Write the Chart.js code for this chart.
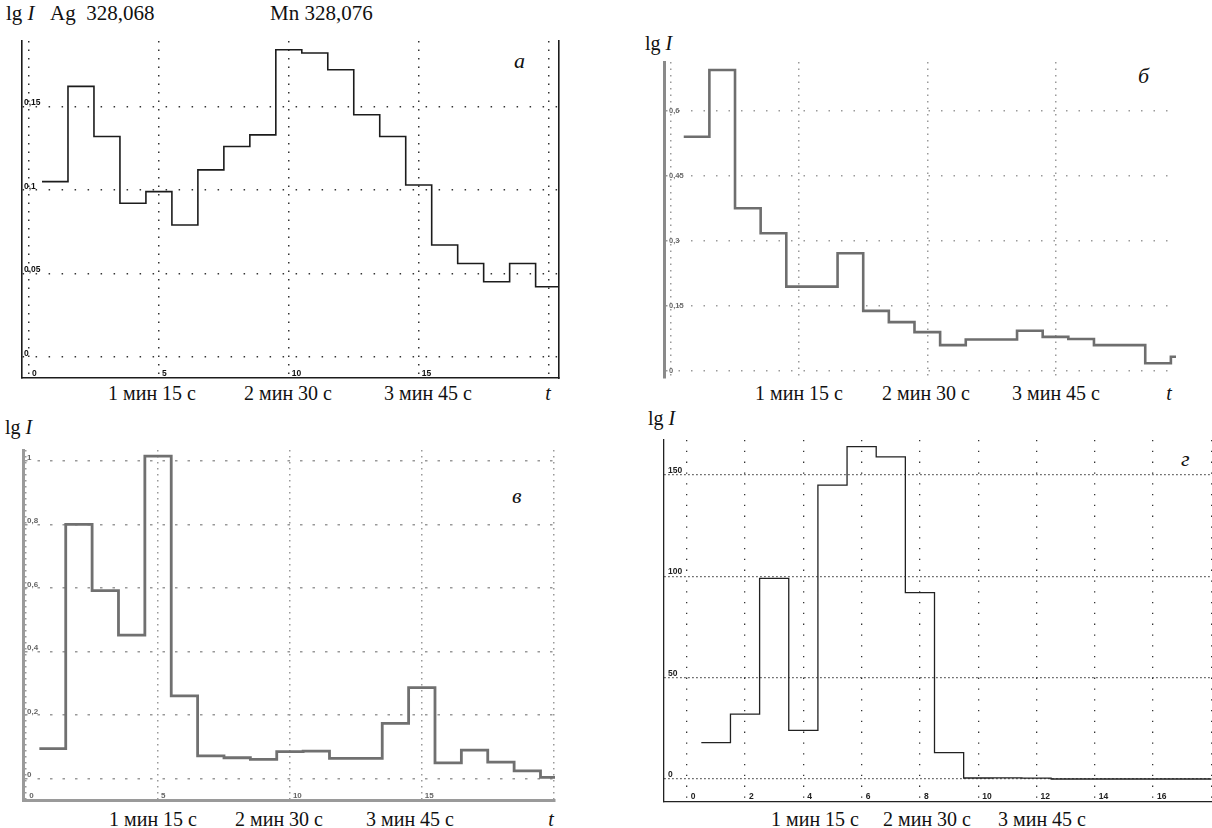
<!DOCTYPE html>
<html>
<head>
<meta charset="utf-8">
<script src="https://cdn.jsdelivr.net/npm/chart.js@4/dist/chart.umd.min.js"></script>
<style>
  body { margin: 0; background: #fff; width: 1212px; height: 828px; position: relative; overflow: hidden;
         font-family: "Liberation Serif", "DejaVu Serif", serif; color: #111; }
  .txt { position: absolute; font-size: 20px; line-height: 1; white-space: pre; }
  .c { transform: translateX(-50%); }
  .tag { position: absolute; font-size: 22px; line-height: 1; font-style: italic; }
  canvas { position: absolute; }
</style>
</head>
<body>

<div class="txt" style="left:6px; top:3px; font-size:21px">lg <i>I</i></div>
<div class="txt" style="left:50px; top:3px; font-size:21px">Ag  328,068</div>
<div class="txt" style="left:270px; top:3px; font-size:21px">Mn 328,076</div>
<div class="tag" style="left:514px; top:50px">а</div>
<div class="txt c" style="left:152px; top:383px">1 мин 15 с</div>
<div class="txt c" style="left:288px; top:383px">2 мин 30 с</div>
<div class="txt c" style="left:428px; top:383px">3 мин 45 с</div>
<div class="txt c" style="left:548px; top:383px"><i>t</i></div>

<div class="txt" style="left:645px; top:33px">lg <i>I</i></div>
<div class="tag" style="left:1138px; top:65px">б</div>
<div class="txt c" style="left:799px; top:383px">1 мин 15 с</div>
<div class="txt c" style="left:926px; top:383px">2 мин 30 с</div>
<div class="txt c" style="left:1056px; top:383px">3 мин 45 с</div>
<div class="txt c" style="left:1169px; top:383px"><i>t</i></div>

<div class="txt" style="left:5px; top:417px">lg <i>I</i></div>
<div class="tag" style="left:512px; top:485px">в</div>
<div class="txt c" style="left:153px; top:809px">1 мин 15 с</div>
<div class="txt c" style="left:279px; top:809px">2 мин 30 с</div>
<div class="txt c" style="left:410px; top:809px">3 мин 45 с</div>
<div class="txt c" style="left:551px; top:809px"><i>t</i></div>

<div class="txt" style="left:648px; top:408px">lg <i>I</i></div>
<div class="tag" style="left:1181px; top:448px">г</div>
<div class="txt c" style="left:815px; top:809px">1 мин 15 с</div>
<div class="txt c" style="left:927px; top:809px">2 мин 30 с</div>
<div class="txt c" style="left:1042px; top:809px">3 мин 45 с</div>

<script>
// lg I per 15 s exposure step, one value per step (step k spans k-0.5 .. k+0.5)
const valuesA = [0.105, 0.162, 0.132, 0.092, 0.099, 0.079, 0.112, 0.126, 0.133, 0.184,
                 0.182, 0.172, 0.145, 0.132, 0.103, 0.067, 0.056, 0.045, 0.056, 0.042];
const valuesB = [0.540, 0.694, 0.375, 0.317, 0.194, 0.194, 0.271, 0.138, 0.112, 0.089,
                 0.059, 0.072, 0.072, 0.092, 0.078, 0.073, 0.059, 0.059, 0.017, 0.032];
const valuesC = [0.094, 0.800, 0.591, 0.451, 1.015, 0.260, 0.071, 0.065, 0.060, 0.084,
                 0.086, 0.063, 0.063, 0.173, 0.286, 0.049, 0.089, 0.051, 0.024, 0.003];
const valuesD = [18, 32, 99, 24, 145, 164, 159, 92, 13, 0.5,
                 0.6, 0.4, 0, 0, 0, 0, 0, 0];

// where the last step is cut off
const endA = 20.4, endB = 19.7, endC = 20.05, endD = 18;

// grid positions and printed tick labels
const xTicksA = [0, 5, 10, 15, 20], xLabelsA = ['0', '5', '10', '15', ''];
const yTicksA = [0, 0.05, 0.1, 0.15], yLabelsA = ['0', '0,05', '0,1', '0,15'];
const xTicksB = [0, 5, 10, 15], xLabelsB = ['', '', '', ''];
const yTicksB = [0, 0.15, 0.3, 0.45, 0.6], yLabelsB = ['0', '0,15', '0,3', '0,45', '0,6'];
const xTicksC = [0, 5, 10, 15, 20], xLabelsC = ['0', '5', '10', '15', ''];
const yTicksC = [0, 0.2, 0.4, 0.6, 0.8, 1], yLabelsC = ['0', '0,2', '0,4', '0,6', '0,8', '1'];
const xTicksD = [0, 2, 4, 6, 8, 10, 12, 14, 16, 18], xLabelsD = ['0', '2', '4', '6', '8', '10', '12', '14', '16', ''];
const yTicksD = [0, 50, 100, 150], yLabelsD = ['0', '50', '100', '150'];

const PAD = 4;

// small tick numbers printed inside the plot, next to the grid lines
const tickText = {
  id: 'tickText',
  afterDraw(chart, args, opts) {
    const { ctx, chartArea, scales } = chart;
    ctx.save();
    ctx.font = opts.font;
    ctx.fillStyle = opts.color;
    ctx.textBaseline = 'alphabetic';
    ctx.textAlign = 'left';
    opts.yTicks.forEach((v, i) => {
      ctx.fillText(opts.yLabels[i], chartArea.left + opts.ydx, scales.y.getPixelForValue(v) + opts.ydy);
    });
    opts.xTicks.forEach((v, i) => {
      ctx.fillText(opts.xLabels[i], scales.x.getPixelForValue(v) + opts.xdx, chartArea.bottom + opts.xdy);
    });
    ctx.restore();
  }
};

function stepPoints(values, end) {
  const pts = values.map((v, i) => ({ x: 0.5 + i, y: v }));
  pts.push({ x: end, y: values[values.length - 1] });
  return pts;
}

function makePanel(p) {
  const cv = document.createElement('canvas');
  cv.width = p.area.width + 2 * PAD;
  cv.height = p.area.height + 2 * PAD;
  cv.style.left = (p.area.left - PAD) + 'px';
  cv.style.top = (p.area.top - PAD) + 'px';
  document.body.appendChild(cv);

  const scales = {
    x: {
      type: 'linear', min: p.x[0], max: p.x[1],
      afterBuildTicks: (axis) => { axis.ticks = p.xTicks.map((v) => ({ value: v })); },
      ticks: { display: false },
      grid: { display: true, drawTicks: false, color: p.gridColor, lineWidth: p.dotW },
      border: { display: p.bottomAxis, color: p.axisColor, width: p.axisW, dash: p.xDash }
    },
    y: {
      type: 'linear', min: p.y[0], max: p.y[1],
      afterBuildTicks: (axis) => { axis.ticks = p.yTicks.map((v) => ({ value: v })); },
      ticks: { display: false },
      grid: { display: true, drawTicks: false, color: p.gridColor, lineWidth: p.dotW },
      border: { display: true, color: p.axisColor, width: p.axisW, dash: p.yDash }
    }
  };
  if (p.rightAxis) {
    scales.yRight = {
      type: 'linear', position: 'right', min: p.y[0], max: p.y[1],
      ticks: { display: false },
      grid: { display: false, drawTicks: false },
      border: { display: true, color: p.axisColor, width: p.axisW }
    };
  }

  new Chart(cv.getContext('2d'), {
    type: 'line',
    data: {
      datasets: [{
        data: stepPoints(p.values, p.end),
        stepped: true,
        borderColor: p.lineColor,
        borderWidth: p.lineW,
        pointRadius: 0,
        fill: false
      }]
    },
    options: {
      responsive: false,
      animation: false,
      events: [],
      layout: { padding: PAD },
      scales,
      plugins: {
        legend: { display: false },
        tooltip: { enabled: false },
        tickText: {
          font: p.tickFont, color: p.tickColor,
          xTicks: p.xTicks, xLabels: p.xLabels, yTicks: p.yTicks, yLabels: p.yLabels,
          ydx: p.ydx, ydy: p.ydy, xdx: p.xdx, xdy: p.xdy
        }
      }
    },
    plugins: [tickText]
  });
}

makePanel({
  area: { left: 22, top: 41, width: 537, height: 337 },
  x: [-0.27, 20.4], y: [-0.0126, 0.1892],
  values: valuesA, end: endA,
  xTicks: xTicksA, xLabels: xLabelsA, yTicks: yTicksA, yLabels: yLabelsA,
  lineColor: '#1c1c1c', lineW: 1.6,
  axisColor: '#1c1c1c', axisW: 1.6, bottomAxis: true, rightAxis: true,
  gridColor: '#333', dotW: 1.5, xDash: [1.5, 7], yDash: [1.5, 11.5],
  tickFont: 'bold 8.5px "Liberation Sans", Arial', tickColor: '#111',
  ydx: 2, ydy: -1, xdx: 3, xdy: -2
});

makePanel({
  area: { left: 664, top: 62, width: 512, height: 316 },
  x: [-0.27, 19.7], y: [-0.0169, 0.7124],
  values: valuesB, end: endB,
  xTicks: xTicksB, xLabels: xLabelsB, yTicks: yTicksB, yLabels: yLabelsB,
  lineColor: '#6e6e6e', lineW: 2.6,
  axisColor: '#8a8a8a', axisW: 3, bottomAxis: false, rightAxis: false,
  gridColor: '#9a9a9a', dotW: 1.5, xDash: [1.5, 5], yDash: [1.5, 11],
  tickFont: 'bold 7.5px "Liberation Sans", Arial', tickColor: '#6a6a6a',
  ydx: 5, ydy: 2, xdx: 3, xdy: -2
});

makePanel({
  area: { left: 23, top: 450, width: 532, height: 350 },
  x: [-0.12, 20.05], y: [-0.068, 1.034],
  values: valuesC, end: endC,
  xTicks: xTicksC, xLabels: xLabelsC, yTicks: yTicksC, yLabels: yLabelsC,
  lineColor: '#707070', lineW: 2.8,
  axisColor: '#9a9a9a', axisW: 3, bottomAxis: true, rightAxis: false,
  gridColor: '#999', dotW: 1.5, xDash: [1.5, 4.5], yDash: [2.5, 10],
  tickFont: 'bold 8px "Liberation Sans", Arial', tickColor: '#666',
  ydx: 4, ydy: -1, xdx: 3, xdy: -2
});

makePanel({
  area: { left: 664, top: 440, width: 548, height: 362 },
  x: [-0.78, 18.02], y: [-11.35, 167.3],
  values: valuesD, end: endD,
  xTicks: xTicksD, xLabels: xLabelsD, yTicks: yTicksD, yLabels: yLabelsD,
  lineColor: '#222', lineW: 1.3,
  axisColor: '#222', axisW: 1.3, bottomAxis: true, rightAxis: false,
  gridColor: '#333', dotW: 1.3, xDash: [1.3, 9.5], yDash: [1.3, 2.7],
  tickFont: 'bold 8.5px "Liberation Sans", Arial', tickColor: '#222',
  ydx: 4, ydy: -2, xdx: 4, xdy: -3
});
</script>
</body>
</html>
